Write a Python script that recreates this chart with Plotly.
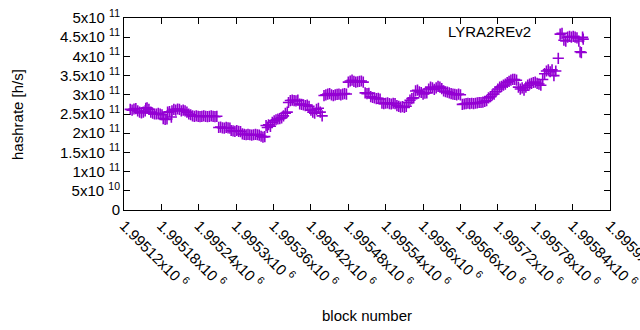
import plotly.graph_objects as go

# block numbers and hashrate [h/s]
blocks = [
    1995130, 1995133, 1995136, 1995139, 1995142, 1995145, 1995148, 1995151, 1995154, 1995155,
    1995157, 1995160, 1995163, 1995166, 1995169, 1995172, 1995175, 1995178, 1995181, 1995183,
    1995186, 1995189, 1995190, 1995193, 1995196, 1995197, 1995200, 1995203, 1995206, 1995209,
    1995212, 1995215, 1995218, 1995221, 1995224, 1995227, 1995230, 1995233, 1995236, 1995239,
    1995242, 1995245, 1995248, 1995251, 1995254, 1995257, 1995260, 1995263, 1995266, 1995269,
    1995272, 1995275, 1995278, 1995281, 1995284, 1995287, 1995290, 1995292, 1995295, 1995298,
    1995301, 1995304, 1995307, 1995310, 1995313, 1995316, 1995319, 1995322, 1995325, 1995328,
    1995331, 1995334, 1995337, 1995340, 1995343, 1995346, 1995348, 1995350, 1995352, 1995355,
    1995358, 1995361, 1995364, 1995367, 1995370, 1995373, 1995376, 1995379, 1995382, 1995384,
    1995387, 1995390, 1995393, 1995396, 1995399, 1995402, 1995405, 1995408, 1995411, 1995414,
    1995417, 1995420, 1995423, 1995426, 1995429, 1995432, 1995435, 1995438, 1995441, 1995444,
    1995447, 1995450, 1995453, 1995456, 1995459, 1995462, 1995465, 1995468, 1995471, 1995474,
    1995477, 1995480, 1995483, 1995486, 1995489, 1995492, 1995495, 1995498, 1995501, 1995504,
    1995507, 1995510, 1995513, 1995516, 1995519, 1995522, 1995525, 1995528, 1995531, 1995534,
    1995537, 1995540, 1995543, 1995546, 1995549, 1995552, 1995555, 1995558, 1995561, 1995564,
    1995567, 1995570, 1995573, 1995576, 1995579, 1995582, 1995585, 1995588, 1995591, 1995594,
    1995597, 1995600, 1995603, 1995606, 1995609, 1995612, 1995615, 1995618, 1995621, 1995624,
    1995627, 1995630, 1995633, 1995636, 1995639, 1995642, 1995645, 1995648, 1995651, 1995654,
    1995657, 1995660, 1995663, 1995666, 1995669, 1995672, 1995675, 1995678, 1995681, 1995684,
    1995687, 1995690, 1995693, 1995696, 1995699, 1995702, 1995705, 1995708, 1995711, 1995714,
    1995717, 1995720, 1995723, 1995726, 1995729, 1995732, 1995735, 1995738, 1995741, 1995744,
    1995747, 1995750, 1995753, 1995756, 1995759, 1995762, 1995765, 1995768, 1995771, 1995774,
    1995777, 1995780, 1995783, 1995786, 1995789, 1995792, 1995795, 1995798, 1995801, 1995804,
    1995807, 1995810, 1995813, 1995817, 1995820, 1995823, 1995826, 1995829, 1995832, 1995835,
    1995838, 1995841, 1995844, 1995847, 1995850, 1995852, 1995854, 1995856, 1995857]
hashrate = [
    2.62e11, 2.60e11, 2.63e11, 2.64e11, 2.58e11, 2.55e11, 2.53e11, 2.55e11, 2.58e11, 2.65e11,
    2.66e11, 2.62e11, 2.55e11, 2.52e11, 2.50e11, 2.50e11, 2.52e11, 2.50e11, 2.48e11, 2.38e11,
    2.36e11, 2.37e11, 2.55e11, 2.56e11, 2.42e11, 2.58e11, 2.62e11, 2.60e11, 2.63e11, 2.62e11,
    2.58e11, 2.60e11, 2.58e11, 2.55e11, 2.50e11, 2.48e11, 2.45e11, 2.44e11, 2.45e11, 2.44e11,
    2.43e11, 2.44e11, 2.45e11, 2.44e11, 2.43e11, 2.44e11, 2.45e11, 2.44e11, 2.43e11, 2.44e11,
    2.15e11, 2.16e11, 2.14e11, 2.13e11, 2.15e11, 2.14e11, 2.13e11, 2.07e11, 2.06e11, 2.05e11,
    2.07e11, 2.05e11, 2.04e11, 1.98e11, 1.97e11, 1.96e11, 1.97e11, 1.96e11, 1.95e11, 1.96e11,
    1.97e11, 1.96e11, 1.95e11, 1.92e11, 1.90e11, 1.91e11, 2.20e11, 2.15e11, 2.22e11, 2.18e11,
    2.28e11, 2.32e11, 2.35e11, 2.37e11, 2.38e11, 2.40e11, 2.45e11, 2.52e11, 2.55e11, 2.80e11,
    2.85e11, 2.86e11, 2.85e11, 2.84e11, 2.86e11, 2.76e11, 2.75e11, 2.74e11, 2.72e11, 2.73e11,
    2.70e11, 2.60e11, 2.55e11, 2.52e11, 2.62e11, 2.65e11, 2.55e11, 2.45e11, 2.98e11, 3.00e11,
    3.02e11, 3.03e11, 3.00e11, 2.98e11, 3.00e11, 3.01e11, 3.02e11, 3.00e11, 3.02e11, 3.03e11,
    3.02e11, 3.33e11, 3.36e11, 3.38e11, 3.35e11, 3.33e11, 3.34e11, 3.35e11, 3.36e11, 3.33e11,
    3.05e11, 3.03e11, 3.04e11, 2.95e11, 2.93e11, 2.92e11, 2.90e11, 2.91e11, 2.89e11, 2.78e11,
    2.77e11, 2.78e11, 2.79e11, 2.77e11, 2.76e11, 2.78e11, 2.77e11, 2.72e11, 2.70e11, 2.68e11,
    2.69e11, 2.67e11, 2.70e11, 2.80e11, 2.86e11, 2.90e11, 2.92e11, 3.10e11, 3.12e11, 3.08e11,
    3.06e11, 3.02e11, 3.04e11, 3.05e11, 3.15e11, 3.20e11, 3.18e11, 3.14e11, 3.18e11, 3.22e11,
    3.20e11, 3.16e11, 3.10e11, 3.08e11, 3.07e11, 3.05e11, 3.03e11, 3.02e11, 3.01e11, 3.00e11,
    3.02e11, 3.00e11, 2.75e11, 2.76e11, 2.77e11, 2.78e11, 2.77e11, 2.78e11, 2.77e11, 2.78e11,
    2.79e11, 2.80e11, 2.80e11, 2.81e11, 2.83e11, 2.85e11, 2.92e11, 2.95e11, 3.00e11, 3.02e11,
    3.08e11, 3.15e11, 3.20e11, 3.22e11, 3.25e11, 3.28e11, 3.32e11, 3.35e11, 3.38e11, 3.40e11,
    3.40e11, 3.38e11, 3.20e11, 3.15e11, 3.18e11, 3.12e11, 3.20e11, 3.25e11, 3.28e11, 3.30e11,
    3.32e11, 3.33e11, 3.30e11, 3.28e11, 3.25e11, 3.40e11, 3.55e11, 3.62e11, 3.65e11, 3.60e11,
    3.65e11, 3.50e11, 3.62e11, 3.95e11, 4.58e11, 4.60e11, 4.42e11, 4.40e11, 4.50e11, 4.52e11,
    4.50e11, 4.52e11, 4.50e11, 4.48e11, 4.40e11, 4.12e11, 4.10e11, 4.50e11, 4.45e11]

x_tickvals = [1995120, 1995180, 1995240, 1995300, 1995360, 1995420, 1995480,
              1995540, 1995600, 1995660, 1995720, 1995780, 1995840, 1995900]
x_ticktext = ["1.99512x10 <sup>6</sup>", "1.99518x10 <sup>6</sup>", "1.99524x10 <sup>6</sup>",
              "1.9953x10 <sup>6</sup>", "1.99536x10 <sup>6</sup>", "1.99542x10 <sup>6</sup>",
              "1.99548x10 <sup>6</sup>", "1.99554x10 <sup>6</sup>", "1.9956x10 <sup>6</sup>",
              "1.99566x10 <sup>6</sup>", "1.99572x10 <sup>6</sup>", "1.99578x10 <sup>6</sup>",
              "1.99584x10 <sup>6</sup>", "1.9959x10 <sup>6</sup>"]
y_tickvals = [0, 5e10, 1e11, 1.5e11, 2e11, 2.5e11, 3e11, 3.5e11, 4e11, 4.5e11, 5e11]
y_ticktext = ["0", "5x10 <sup>10</sup>", "1x10 <sup>11</sup>", "1.5x10 <sup>11</sup>",
              "2x10 <sup>11</sup>", "2.5x10 <sup>11</sup>", "3x10 <sup>11</sup>",
              "3.5x10 <sup>11</sup>", "4x10 <sup>11</sup>", "4.5x10 <sup>11</sup>",
              "5x10 <sup>11</sup>"]

FONT = "Liberation Sans, Arial, sans-serif"
COLOR = "#9400D3"

fig = go.Figure()
fig.add_trace(go.Scatter(
    x=blocks, y=hashrate, mode="markers", name="LYRA2REv2",
    marker=dict(symbol="cross-thin", size=8, color=COLOR,
                line=dict(color=COLOR, width=1.6)),
    cliponaxis=False,
))

fig.update_layout(
    width=640, height=330,
    margin=dict(l=124, r=30, t=18, b=120),
    paper_bgcolor="white", plot_bgcolor="white",
    showlegend=False,
    font=dict(family=FONT, size=15, color="black"),
    xaxis=dict(range=[1995120, 1995900], tickvals=x_tickvals, ticktext=x_ticktext,
               tickangle=45, ticks="inside", ticklen=6, tickcolor="black",
               showline=True, linecolor="black", linewidth=1, mirror="allticks",
               showgrid=False, zeroline=False, tickfont=dict(size=15), automargin=False,
               ticklabeloverflow="allow"),
    yaxis=dict(range=[0, 5e11], tickvals=y_tickvals, ticktext=y_ticktext,
               ticks="inside", ticklen=6, tickcolor="black",
               showline=True, linecolor="black", linewidth=1, mirror="allticks",
               showgrid=False, zeroline=False, tickfont=dict(size=15), automargin=False,
               ticklabeloverflow="allow"),
    annotations=[
        dict(text="LYRA2REv2", xref="paper", yref="paper", x=0.8416, y=0.932,
             xanchor="right", yanchor="middle", showarrow=False, font=dict(size=15)),
        dict(text="hashrate [h/s]", xref="paper", yref="paper", x=-0.2202, y=0.5,
             xanchor="center", yanchor="middle", textangle=-90, showarrow=False,
             font=dict(size=15)),
        dict(text="block number", xref="paper", yref="paper", x=0.5, y=-0.547,
             xanchor="center", yanchor="middle", showarrow=False, font=dict(size=15)),
    ],
)

fig.write_html("out.html", config={"displayModeBar": False},
               post_script="document.body.style.margin='0';")
